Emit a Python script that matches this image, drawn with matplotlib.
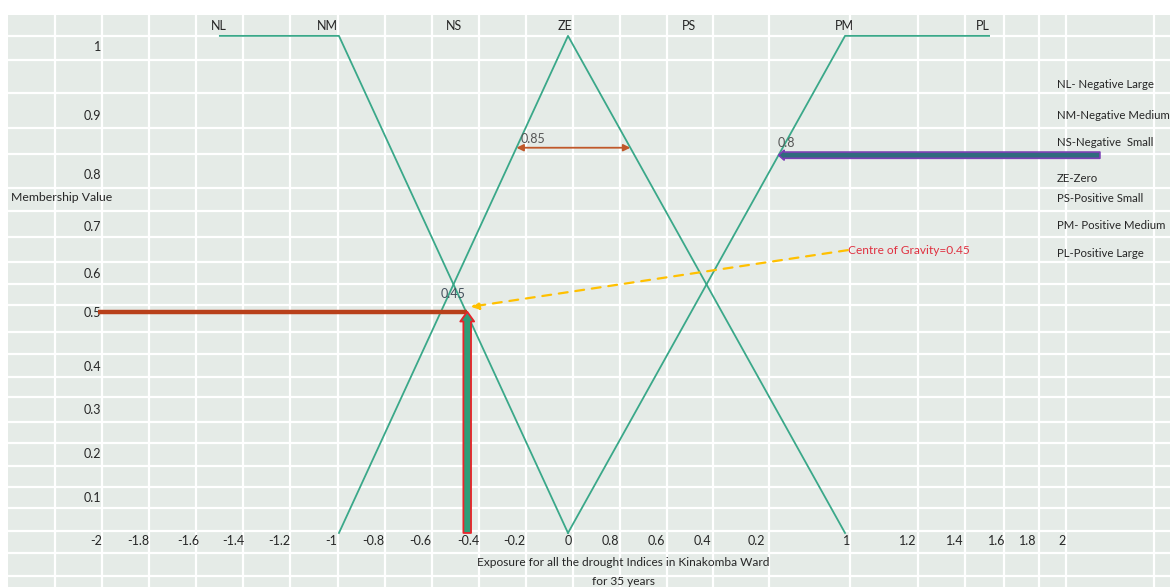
import numpy as np
import matplotlib
matplotlib.use("Agg")
import matplotlib.pyplot as plt

plt.rcParams['font.family'] = ['Lato', 'DejaVu Sans']

# membership functions (exposure, membership)
nm_x = [-1.52, -1.0, 0.0]
nm_y = [1.0, 1.0, 0.0]
ze_x = [-1.0, 0.0, 1.0]
ze_y = [0.0, 1.0, 0.0]
pm_x = [0.0, 1.0, 1.52]
pm_y = [0.0, 1.0, 1.0]

set_names = ['NL', 'NM', 'NS', 'ZE', 'PS', 'PM', 'PL']
legend_lines = ['NL- Negative Large', 'NM-Negative Medium', 'NS-Negative  Small',
                'ZE-Zero', 'PS-Positive Small', 'PM- Positive Medium', 'PL-Positive Large']

xtick_labels = ['-2', '-1.8', '-1.6', '-1.4', '-1.2', '-1', '-0.8', '-0.6', '-0.4', '-0.2',
                '0', '0.8', '0.6', '0.4', '0.2', '1', '1.2', '1.4', '1.6', '1.8', '2']
ytick_labels = ['1', '0.9', '0.8', '0.7', '0.6', '0.5', '0.4', '0.3', '0.2', '0.1']

# results marked on the chart
cog_x = -0.44
cog_y = 0.445
ze_level = 0.775
pm_level = 0.76
pm_bar_end = 1.92
red_start = -2.05
cog_text_pt = (1.01, 0.569)

# layout (where the hand-placed labels sit, in axis units)
xtick_pos = [-2.061, -1.878, -1.657, -1.463, -1.26, -1.035, -0.852, -0.646, -0.437, -0.234,
             0.0, 0.152, 0.318, 0.484, 0.679, 1.004, 1.227, 1.397, 1.549, 1.661, 1.783]
ytick_pos = [0.978, 0.838, 0.72, 0.616, 0.521, 0.443, 0.334, 0.247, 0.159, 0.07]
name_pos = [-1.524, -1.052, -0.496, -0.015, 0.437, 0.996, 1.498]
legend_y = [0.903, 0.839, 0.785, 0.714, 0.672, 0.618, 0.563]

W, H = 1170, 587
fig = plt.figure(figsize=(W / 100, H / 100), dpi=100)
fig.patch.set_facecolor('white')

# background table (grey cells, white borders)
bg = fig.add_axes([0, 0, 1, 1])
bg.set_xlim(0, W)
bg.set_ylim(H, 0)
bg.axis('off')
bg.add_patch(plt.Rectangle((8, 15), W - 8, H - 15, color='#e5ebe7', lw=0))
cols = [55, 102, 149, 196, 243, 290, 338, 385, 432, 479, 526, 573, 620, 667, 713,
        769, 850, 918, 965, 1004, 1039, 1066, 1154]
rows = [36, 60, 93, 128, 154, 188, 211, 237, 262, 284, 305, 332, 354, 377, 397,
        422, 443, 466, 487, 508, 531, 553, 576]
for c in cols:
    bg.plot([c, c], [15, H], color='white', lw=1.6)
for r in rows:
    bg.plot([8, W], [r, r], color='white', lw=1.6)

# chart axes, left half of x compressed like the original drawing
def fwd(x):
    x = np.asarray(x, dtype=float)
    return np.where(x < 0, x * 229.0, x * 277.0)

def inv(u):
    u = np.asarray(u, dtype=float)
    return np.where(u < 0, u / 229.0, u / 277.0)

ax = fig.add_axes([8 / W, 0, (W - 8) / W, (H - 15) / H])
ax.patch.set_alpha(0)
ax.set_xscale('function', functions=(fwd, inv))
ax.set_xlim(-2.445, 2.173)
ax.set_ylim(-0.1087, 1.042)
ax.axis('off')

teal = '#3aa889'
txt = '#262626'
for xs, ys in [(nm_x, nm_y), (ze_x, ze_y), (pm_x, pm_y)]:
    ax.plot(xs, ys, color=teal, lw=1.3, zorder=3)

for name, xp in zip(set_names, name_pos):
    ax.text(xp, 1.02, name, ha='center', va='center', fontsize=9, color=txt)

for lab, xp in zip(xtick_labels, xtick_pos):
    ax.text(xp, -0.017, lab, ha='center', va='center', fontsize=9, color=txt)
for lab, yp in zip(ytick_labels, ytick_pos):
    ax.text(-2.04, yp, lab, ha='right', va='center', fontsize=9, color=txt)

ax.text(-2.43, 0.674, 'Membership Value', ha='left', va='center', fontsize=8.8, color=txt)
ax.text(0.2, -0.06, 'Exposure for all the drought Indices in Kinakomba Ward',
        ha='center', va='center', fontsize=8.6, color=txt)
ax.text(0.2, -0.097, 'for 35 years', ha='center', va='center', fontsize=8.6, color=txt)

for lab, yp in zip(legend_lines, legend_y):
    ax.text(1.765, yp, lab, ha='left', va='center', fontsize=8.2, color=txt)

# double arrow across ZE at 0.85
ze_left = ze_level - 1.0
ze_right = 1.0 - ze_level
ax.annotate('', xy=(ze_right, ze_level), xytext=(ze_left, ze_level),
            arrowprops=dict(arrowstyle='<|-|>', color='#c0582a', lw=1.3,
                            mutation_scale=10, shrinkA=0, shrinkB=0), zorder=4)
ax.text(ze_left + 0.02, ze_level + 0.005, '0.85', ha='left', va='bottom',
        fontsize=9, color='#555555')

# PM cut at 0.8
ax.annotate('', xy=(pm_level, pm_level), xytext=(pm_bar_end, pm_level),
            arrowprops=dict(arrowstyle='simple,head_width=0.7,head_length=0.4,tail_width=0.45',
                            fc='#2f6a7e', ec='#7b3fb5', lw=1.2, mutation_scale=10,
                            shrinkA=0, shrinkB=0), zorder=4)
ax.text(pm_level + 0.03, pm_level + 0.012, '0.8', ha='center', va='bottom',
        fontsize=9, color='#555555')

# centre of gravity
ax.plot([red_start, cog_x], [cog_y, cog_y], color='#b8401a', lw=3.2,
        solid_capstyle='butt', zorder=4)
ax.annotate('', xy=(cog_x, cog_y), xytext=(cog_x, 0.0),
            arrowprops=dict(arrowstyle='simple,head_width=1.0,head_length=0.7,tail_width=0.55',
                            fc='#2e9e78', ec='#e8242a', lw=1.3, mutation_scale=10,
                            shrinkA=0, shrinkB=0), zorder=5)
ax.text(cog_x - 0.06, cog_y + 0.035, '0.45', ha='center', va='center',
        fontsize=9, color='#44505c')
ax.annotate('', xy=(cog_x + 0.015, cog_y + 0.01), xytext=cog_text_pt,
            arrowprops=dict(arrowstyle='-|>', color='#ffc000', lw=1.6,
                            linestyle=(0, (4, 3.5)), mutation_scale=12,
                            shrinkA=0, shrinkB=0), zorder=4)
ax.text(cog_text_pt[0], cog_text_pt[1], 'Centre of Gravity=0.45', ha='left',
        va='center', fontsize=8.6, color='#e03040')

fig.savefig('out.png', dpi=100)
